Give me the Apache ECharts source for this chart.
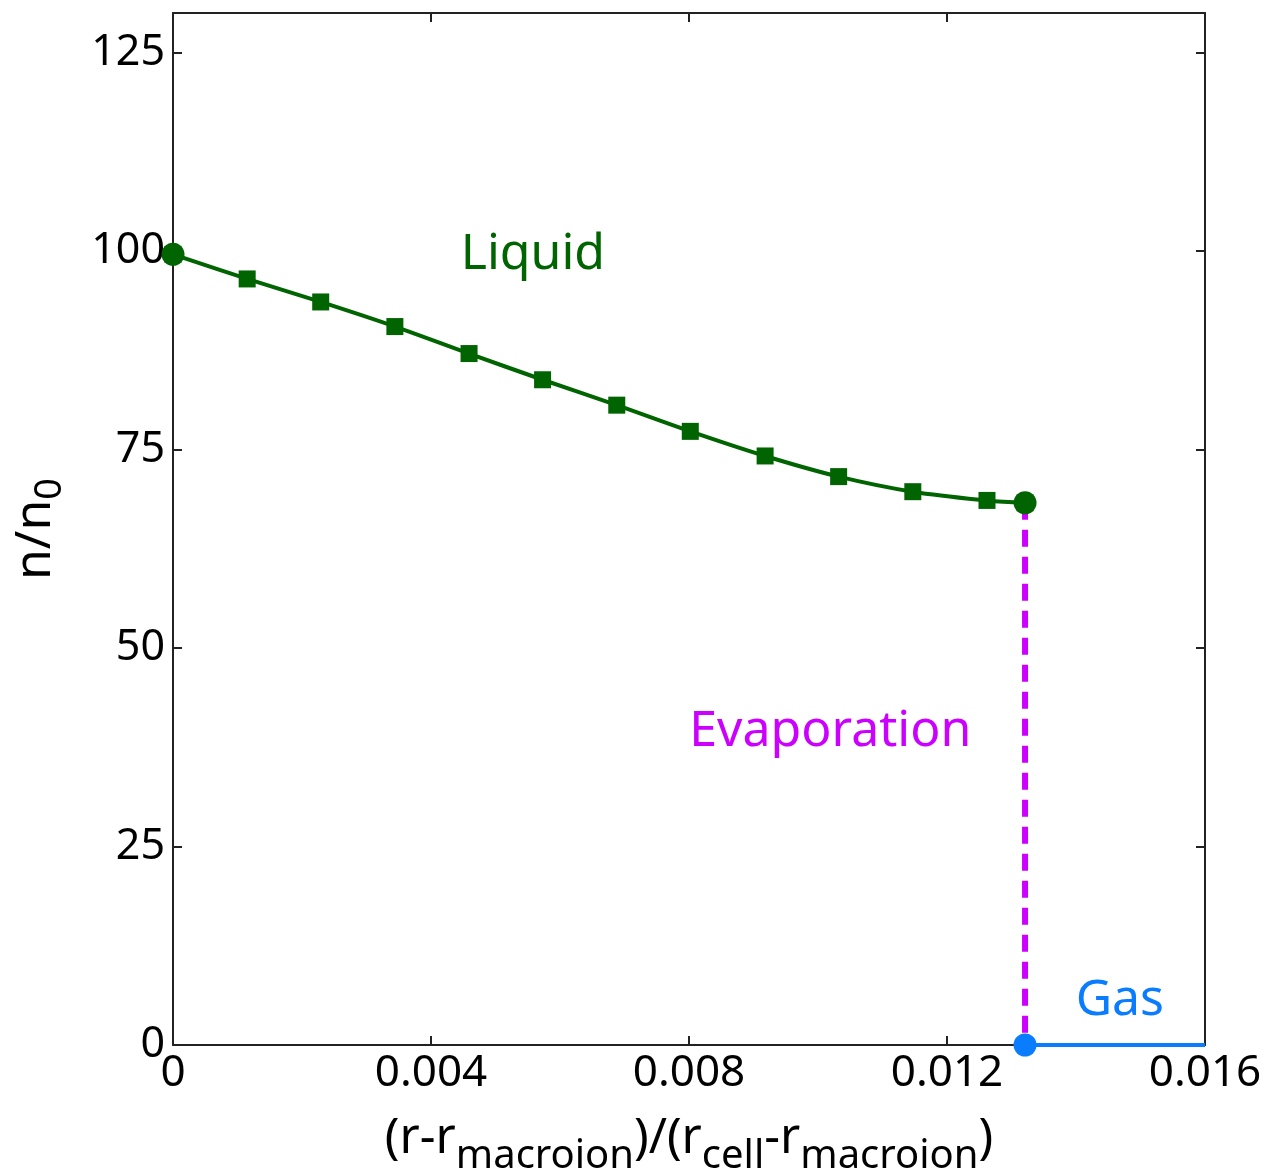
<!DOCTYPE html>
<html>
<head>
<meta charset="utf-8">
<script src="https://cdn.jsdelivr.net/npm/echarts@6/dist/echarts.min.js"></script>
<style>
  html, body { margin: 0; padding: 0; background: #fff; }
  #chart { width: 1272px; height: 1171px; }
</style>
</head>
<body>
<div id="chart"></div>
<script>
// Density profile n/n0 versus reduced radial distance
const liquidX = [0, 0.00115, 0.00229, 0.00344, 0.00459, 0.00573, 0.00688, 0.00802, 0.00918, 0.01032, 0.01147, 0.01262, 0.01321];
const liquidY = [99.6, 96.5, 93.6, 90.5, 87.1, 83.8, 80.6, 77.3, 74.2, 71.6, 69.7, 68.6, 68.3];
const jumpX = 0.01321;
const gasX = [0.01321, 0.016];
const gasY = [0, 0];
const yTicks = [0, 25, 50, 75, 100, 125];
const xTicks = [0, 0.004, 0.008, 0.012, 0.016];
const phaseLabels = ['Liquid', 'Evaporation', 'Gas'];
const phaseX = [0.00558, 0.01019, 0.01468];
const phaseY = [99.6, 39.5, 5.6];

const FONT = 'Noto Sans';
const GREEN = '#006400';
const PURPLE = '#cc00ff';
const BLUE = '#0a7dff';

const liquidData = liquidX.map((x, i) => [x, liquidY[i]]);
const endIdx = liquidData.length - 1;

const chart = echarts.init(document.getElementById('chart'));

const axisLine = { show: true, onZero: false, lineStyle: { color: '#222', width: 2 } };
const axisTick = { show: true, inside: true, length: 9, lineStyle: { color: '#222', width: 2 } };

const commonX = {
  type: 'value', min: xTicks[0], max: xTicks[xTicks.length - 1], interval: 0.004,
  splitLine: { show: false }, axisLine: axisLine, axisTick: axisTick
};
const commonY = {
  type: 'value', min: 0, max: 130, interval: 25,
  splitLine: { show: false }, axisLine: axisLine, axisTick: axisTick
};

chart.setOption({
  animation: false,
  backgroundColor: '#fff',
  grid: { left: 173, top: 13, right: 67, bottom: 126, containLabel: false, outerBoundsMode: 'none' },
  xAxis: [
    Object.assign({}, commonX, {
      position: 'bottom',
      axisLabel: {
        color: '#000', fontFamily: FONT, fontSize: 44, margin: 6,
        formatter: v => (v === 0 ? '0' : v.toFixed(3))
      },
      name: '{m|(r-r}{s|macroion}{m|)/(r}{s|cell}{m|-r}{s|macroion}{m|)}',
      nameLocation: 'middle', nameGap: 70,
      nameTextStyle: {
        rich: {
          m: { fontFamily: FONT, fontSize: 49, color: '#000', verticalAlign: 'top' },
          s: { fontFamily: FONT, fontSize: 40, color: '#000', verticalAlign: 'bottom', padding: [22, 0, 0, 0] }
        }
      }
    }),
    Object.assign({}, commonX, { position: 'top', axisLabel: { show: false } })
  ],
  yAxis: [
    Object.assign({}, commonY, {
      position: 'left',
      axisLabel: {
        color: '#000', fontFamily: FONT, fontSize: 43, margin: 8, showMaxLabel: false,
        formatter: v => (yTicks.indexOf(v) >= 0 ? String(v) : '')
      },
      name: '{m|n/n}{s|0}',
      nameLocation: 'middle', nameGap: 104, nameRotate: 90,
      nameTextStyle: {
        rich: {
          m: { fontFamily: FONT, fontSize: 50, color: '#000', verticalAlign: 'top' },
          s: { fontFamily: FONT, fontSize: 38, color: '#000', verticalAlign: 'bottom', padding: [20, 0, 0, 0] }
        }
      }
    }),
    Object.assign({}, commonY, { position: 'right', axisLabel: { show: false } })
  ],
  series: [
    {
      name: 'Liquid', type: 'line', smooth: 0.35,
      data: liquidData,
      symbol: 'rect', symbolSize: 17,
      lineStyle: { color: GREEN, width: 4 },
      itemStyle: { color: GREEN, opacity: 1 },
      z: 5
    },
    {
      name: 'Liquid ends', type: 'scatter',
      data: [liquidData[0], liquidData[endIdx]],
      symbol: 'circle', symbolSize: 23,
      itemStyle: { color: GREEN, opacity: 1 },
      z: 6
    },
    {
      name: 'Evaporation', type: 'line',
      data: [[jumpX, liquidY[endIdx]], [jumpX, gasY[0]]],
      symbol: 'none',
      lineStyle: { color: PURPLE, width: 6, type: [17, 10] },
      z: 3
    },
    {
      name: 'Gas', type: 'line',
      data: gasX.map((x, i) => [x, gasY[i]]),
      symbol: 'none',
      lineStyle: { color: BLUE, width: 4 },
      z: 4
    },
    {
      name: 'Gas start', type: 'scatter',
      data: [[gasX[0], gasY[0]]],
      symbol: 'circle', symbolSize: 23,
      itemStyle: { color: BLUE, opacity: 1 },
      z: 6
    },
    {
      name: 'Phase labels', type: 'scatter',
      data: phaseLabels.map((t, i) => ({
        value: [phaseX[i], phaseY[i]],
        label: { color: [GREEN, PURPLE, BLUE][i] }
      })),
      symbolSize: 0,
      silent: true,
      itemStyle: { opacity: 1 },
      label: {
        show: true, position: 'inside', opacity: 1,
        fontFamily: FONT, fontSize: 50,
        formatter: p => phaseLabels[p.dataIndex]
      },
      z: 7
    }
  ]
});
</script>
</body>
</html>
